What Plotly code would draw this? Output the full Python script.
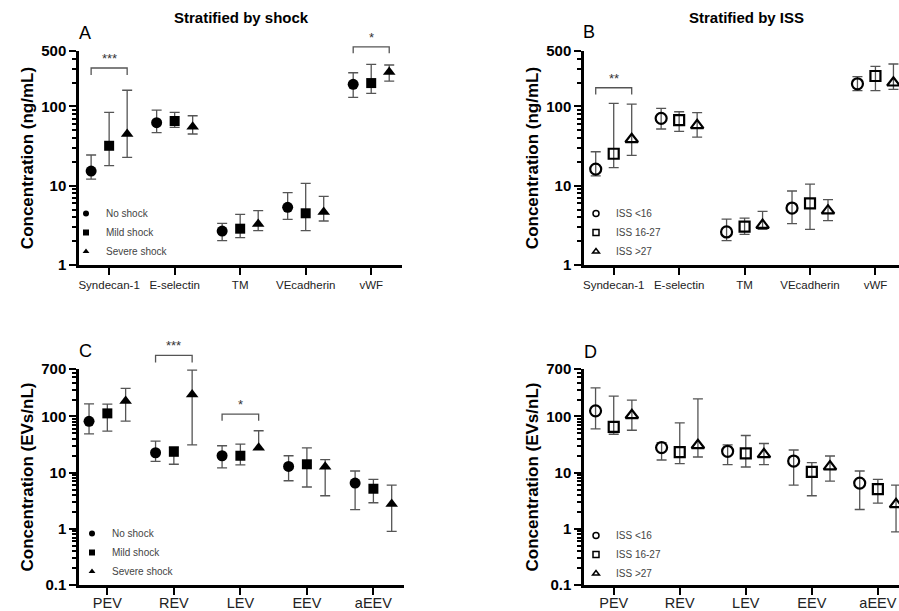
import numpy as np
import plotly.graph_objects as go

# ---------------- data ----------------
a_cats = ["Syndecan-1", "E-selectin", "TM", "VEcadherin", "vWF"]
c_cats = ["PEV", "REV", "LEV", "EEV", "aEEV"]
shock_groups = ["No shock", "Mild shock", "Severe shock"]
iss_groups = ["ISS <16", "ISS 16-27", "ISS >27"]

# Panel A (stratified by shock), ng/mL
a_none_mid = [15.3, 62.3, 2.68, 5.34, 190]
a_none_hi = [24.4, 90, 3.35, 8.16, 266]
a_none_lo = [12.1, 46.6, 2.03, 3.77, 130]
a_mild_mid = [31.9, 65.5, 2.87, 4.49, 197]
a_mild_hi = [84, 84, 4.36, 10.7, 340]
a_mild_lo = [17.9, 54.5, 2.21, 2.71, 146]
a_sev_mid = [44.9, 55.5, 3.29, 4.66, 272]
a_sev_hi = [160, 76.3, 4.84, 7.35, 333]
a_sev_lo = [22.8, 44.9, 2.71, 3.59, 209]

# Panel B (stratified by ISS), ng/mL
b_lo16_mid = [16.2, 70.8, 2.61, 5.23, 193]
b_lo16_hi = [26.8, 94.6, 3.80, 8.57, 237]
b_lo16_lo = [13.3, 51.9, 2.03, 3.32, 158]
b_mid_mid = [25.3, 67.3, 3.04, 6.0, 242]
b_mid_hi = [109, 85.7, 3.91, 10.5, 320]
b_mid_lo = [16.9, 48.5, 2.44, 2.82, 158]
b_hi27_mid = [38.5, 57.8, 3.19, 4.84, 199]
b_hi27_hi = [107, 83.4, 4.75, 6.66, 343]
b_hi27_lo = [24.2, 41.1, 2.82, 3.62, 164]

# Panel C (stratified by shock), EVs/nL
c_none_mid = [81.8, 22.6, 20.0, 12.9, 6.53]
c_none_hi = [168, 36.5, 30.1, 20.0, 10.7]
c_none_lo = [49.2, 15.9, 12.2, 7.18, 2.19]
c_mild_mid = [113.5, 23.5, 20.0, 14.1, 5.17]
c_mild_hi = [166, 28.9, 32.3, 27.7, 7.6]
c_mild_lo = [55, 14.1, 13.8, 5.55, 2.91]
c_sev_mid = [188, 247, 27.7, 12.7, 2.76]
c_sev_hi = [316, 670, 55.7, 17.0, 6.01]
c_sev_lo = [82.8, 31.3, 26.0, 3.88, 0.90]

# Panel D (stratified by ISS), EVs/nL
d_lo16_mid = [126, 27.9, 24.0, 16.1, 6.52]
d_lo16_hi = [324, 34.3, 31.1, 25.3, 10.7]
d_lo16_lo = [60, 16.8, 13.9, 6.0, 2.21]
d_mid_mid = [65.2, 23.1, 22.1, 10.3, 5.09]
d_mid_hi = [231, 76.9, 45.8, 15.1, 7.59]
d_mid_lo = [48.3, 14.5, 12.6, 3.88, 2.87]
d_hi27_mid = [105, 30.7, 21.2, 12.8, 2.72]
d_hi27_hi = [195, 206, 33.0, 19.8, 6.0]
d_hi27_lo = [56.9, 19.0, 13.9, 7.08, 0.88]

# significance brackets: (category index, bracket top, leg bottom, label)
a_sig = [(0, 305, 249, "***"), (4, 565, 468, "*")]
b_sig = [(0, 172, 141, "**")]
c_sig = [(1, 1222, 918, "***"), (2, 110, 83.8, "*")]

top_ticks = [1, 10, 100, 500]
bot_ticks = [0.1, 1, 10, 100, 700]

# ---------------- styling ----------------
FONT = "Arial, Liberation Sans, sans-serif"
W, H = 899, 611
OFFSET = 0.275
filled_symbols = ["circle", "square", "triangle-up"]
open_symbols = ["circle-open", "square-open", "triangle-up-open"]
marker_sizes = [11, 10, 11]
ERR_COLOR = "#555555"

fig = go.Figure()


def add_panel(n, series, groups, symbols, legend_name, open_marker):
    xa = "x" if n == 1 else f"x{n}"
    ya = "y" if n == 1 else f"y{n}"
    for gi, (mid, hi, lo) in enumerate(series):
        mid_a = np.array(mid, dtype=float)
        xs = np.arange(len(mid)) + (gi - 1) * OFFSET
        fig.add_trace(go.Scatter(
            x=xs, y=mid_a, mode="markers", xaxis=xa, yaxis=ya,
            showlegend=False, cliponaxis=False, hoverinfo="skip",
            marker=dict(symbol=symbols[gi], size=marker_sizes[gi], color="black",
                        line=dict(width=2.2 if open_marker else 0, color="black")),
            error_y=dict(type="data", symmetric=False,
                         array=np.array(hi) - mid_a, arrayminus=mid_a - np.array(lo),
                         color=ERR_COLOR, thickness=1.3, width=5),
        ))
        # legend entry (small symbol)
        fig.add_trace(go.Scatter(
            x=[None], y=[None], mode="markers", xaxis=xa, yaxis=ya,
            name=groups[gi], legend=legend_name, showlegend=True,
            marker=dict(symbol=symbols[gi], size=6, color="black",
                        line=dict(width=1.5 if open_marker else 0, color="black")),
        ))


add_panel(1, [(a_none_mid, a_none_hi, a_none_lo), (a_mild_mid, a_mild_hi, a_mild_lo),
              (a_sev_mid, a_sev_hi, a_sev_lo)], shock_groups, filled_symbols, "legend", False)
add_panel(2, [(b_lo16_mid, b_lo16_hi, b_lo16_lo), (b_mid_mid, b_mid_hi, b_mid_lo),
              (b_hi27_mid, b_hi27_hi, b_hi27_lo)], iss_groups, open_symbols, "legend2", True)
add_panel(3, [(c_none_mid, c_none_hi, c_none_lo), (c_mild_mid, c_mild_hi, c_mild_lo),
              (c_sev_mid, c_sev_hi, c_sev_lo)], shock_groups, filled_symbols, "legend3", False)
add_panel(4, [(d_lo16_mid, d_lo16_hi, d_lo16_lo), (d_mid_mid, d_mid_hi, d_mid_lo),
              (d_hi27_mid, d_hi27_hi, d_hi27_lo)], iss_groups, open_symbols, "legend4", True)

# ---------------- axes ----------------
def px_x(p):
    return p / W


def px_y(p):
    return 1 - p / H


top_range = [0, np.log10(500)]
bot_range = [-1, np.log10(700)]

panels = {
    1: dict(xd=[px_x(79), px_x(402)], yd=[px_y(265), px_y(51)], xr=[-0.46, 4.47],
            yr=top_range, cats=a_cats, ticks=top_ticks, title="Concentration (ng/mL)",
            xfs=11.5, xstand=0),
    2: dict(xd=[px_x(584), 1.0], yd=[px_y(265), px_y(51)], xr=[-0.454, 4.36],
            yr=top_range, cats=a_cats, ticks=top_ticks, title="Concentration (ng/mL)",
            xfs=11.5, xstand=0),
    3: dict(xd=[px_x(79), px_x(404)], yd=[px_y(585), px_y(369)], xr=[-0.426, 4.46],
            yr=bot_range, cats=c_cats, ticks=bot_ticks, title="Concentration (EVs/nL)",
            xfs=14.5, xstand=-4),
    4: dict(xd=[px_x(584), 1.0], yd=[px_y(585), px_y(369)], xr=[-0.45, 4.32],
            yr=bot_range, cats=c_cats, ticks=bot_ticks, title="Concentration (EVs/nL)",
            xfs=14.5, xstand=-4),
}


def minor_vals(rng):
    lo, hi = rng
    vals = []
    for e in range(int(np.floor(lo)), int(np.ceil(hi)) + 1):
        for d in range(2, 10):
            v = d * 10.0 ** e
            if 10 ** lo < v < 10 ** hi:
                vals.append(v)
    return vals


layout = {}
for n, p in panels.items():
    xk = "xaxis" if n == 1 else f"xaxis{n}"
    yk = "yaxis" if n == 1 else f"yaxis{n}"
    xa = "x" if n == 1 else f"x{n}"
    ya = "y" if n == 1 else f"y{n}"
    layout[xk] = dict(
        domain=p["xd"], anchor=ya, range=p["xr"], showgrid=False, zeroline=False,
        showline=True, linewidth=2.5, linecolor="black", ticks="outside", ticklen=7,
        tickwidth=2, tickcolor="black", tickvals=list(range(len(p["cats"]))),
        ticktext=p["cats"], tickfont=dict(family=FONT, size=p["xfs"], color="#222222"),
        ticklabelstandoff=p["xstand"], automargin=False, fixedrange=True,
    )
    layout[yk] = dict(
        domain=p["yd"], anchor=xa, type="log", range=p["yr"], showgrid=False,
        zeroline=False, showline=True, linewidth=2.5, linecolor="black",
        ticks="outside", ticklen=7, tickwidth=2, tickcolor="black",
        tickvals=p["ticks"], ticktext=[f"{t:g}" for t in p["ticks"]],
        tickfont=dict(family=FONT, size=15, color="black", weight="bold"),
        minor=dict(tickvals=minor_vals(p["yr"]), ticks="outside", ticklen=4,
                   tickwidth=1.5, tickcolor="black", showgrid=False),
        title=dict(text=p["title"], font=dict(family=FONT, size=17, color="black", weight="bold"),
                   standoff=4),
        automargin=False, fixedrange=True,
    )

# ---------------- significance brackets ----------------
shapes = []
annotations = []


def to_dom(v, rng):
    return (np.log10(v) - rng[0]) / (rng[1] - rng[0])


for n, sig in [(1, a_sig), (2, b_sig), (3, c_sig)]:
    xa = "x" if n == 1 else f"x{n}"
    ya = "y" if n == 1 else f"y{n}"
    rng = panels[n]["yr"]
    for ci, ytop, yleg, label in sig:
        x0, x1 = ci - OFFSET, ci + OFFSET
        yt, yl = to_dom(ytop, rng), to_dom(yleg, rng)
        path = f"M {x0} {yl} L {x0} {yt} L {x1} {yt} L {x1} {yl}"
        shapes.append(dict(type="path", path=path, xref=xa, yref=f"{ya} domain",
                           line=dict(color=ERR_COLOR, width=1.3)))
        annotations.append(dict(text=label, x=ci, y=yt, xref=xa, yref=f"{ya} domain",
                                showarrow=False, yanchor="bottom", yshift=0,
                                font=dict(family=FONT, size=13, color="#333333")))

# titles & panel letters
for text, x, y in [("Stratified by shock", 241, 17), ("Stratified by ISS", 746, 17)]:
    annotations.append(dict(text=text, x=px_x(x), y=px_y(y), xref="paper", yref="paper",
                            showarrow=False, xanchor="center", yanchor="middle",
                            font=dict(family=FONT, size=15, color="black", weight="bold")))
for text, x, y in [("A", 85, 33), ("B", 589, 32), ("C", 85, 351), ("D", 590, 352)]:
    annotations.append(dict(text=text, x=px_x(x), y=px_y(y), xref="paper", yref="paper",
                            showarrow=False, xanchor="center", yanchor="middle",
                            font=dict(family=FONT, size=18, color="black")))

legend_style = dict(font=dict(family=FONT, size=10, color="#444444"), bgcolor="rgba(0,0,0,0)",
                    borderwidth=0, xanchor="left", yanchor="top", tracegroupgap=0,
                    itemclick=False, itemdoubleclick=False)
layout["legend"] = dict(x=px_x(66), y=px_y(199), **legend_style)
layout["legend2"] = dict(x=px_x(576), y=px_y(199), **legend_style)
layout["legend3"] = dict(x=px_x(72), y=px_y(519), **legend_style)
layout["legend4"] = dict(x=px_x(576), y=px_y(521), **legend_style)

fig.update_layout(
    width=W, height=H, margin=dict(l=0, r=0, t=0, b=0),
    paper_bgcolor="white", plot_bgcolor="white",
    font=dict(family=FONT, color="black"), hovermode=False,
    shapes=shapes, annotations=annotations, **layout,
)

fig.write_html(
    "out.html",
    config={"displayModeBar": False, "staticPlot": False},
    post_script="document.body.style.margin='0';document.body.style.overflow='hidden';",
)
